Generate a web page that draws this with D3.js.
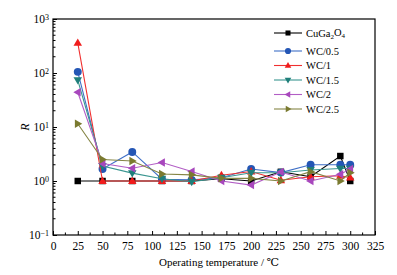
<!DOCTYPE html>
<html>
<head>
<meta charset="utf-8">
<script src="https://cdn.jsdelivr.net/npm/d3@7"></script>
<style>
  body { margin: 0; background: #fff; }
  text { font-family: "Liberation Serif", "DejaVu Serif", serif; fill: #000; }
</style>
</head>
<body>
<div id="chart"></div>
<script>

// temperatures (°C)
const temps = [25, 50, 80, 110, 140, 170, 200, 230, 260, 290, 300];

// series
const seriesNames = ["CuGa2O4", "WC/0.5", "WC/1", "WC/1.5", "WC/2", "WC/2.5"];
const cuga = [1.0, 1.0, 1.0, 1.0, 1.0, 1.1, 1.0, 1.48, 1.2, 2.9, 1.0];
const wc05 = [105, 1.67, 3.45, 1.08, 1.05, 1.15, 1.67, 1.43, 2.0, 2.0, 2.0];
const wc1 = [360, 1.0, 1.0, 1.0, 1.0, 1.28, 1.5, 1.03, 1.2, 1.25, 1.15];
const wc15 = [74, 1.9, 1.4, 1.1, 0.97, 1.15, 1.42, 1.42, 1.6, 1.7, 1.7];
const wc2 = [44, 2.1, 1.72, 2.2, 1.5, 1.0, 0.84, 1.47, 1.0, 1.33, 1.67];
const wc25 = [11.5, 2.5, 2.35, 1.35, 1.3, 1.12, 1.12, 1.0, 1.49, 1.0, 1.42];

const xTicks = [0, 25, 50, 75, 100, 125, 150, 175, 200, 225, 250, 275, 300, 325];
const yTicks = [0.1, 1, 10, 100, 1000];

function main() {

    const W = 397, H = 275;
    const margin = {top: 19, right: 22, bottom: 40, left: 53},
        width = W - margin.left - margin.right,
        height = H - margin.top - margin.bottom;

    const svg = d3.select("#chart")
        .append("svg")
        .attr("width", W)
        .attr("height", H);

    const g = svg.append("g")
        .attr("transform", `translate(${margin.left},${margin.top})`);

    const x = d3.scaleLinear().domain([0, 325]).range([0, width]);
    const y = d3.scaleLog().domain([0.1, 1000]).range([height, 0]);

    // minor ticks
    const xMinor = d3.range(12.5, 325, 25);
    const yMinor = [];
    for (let d = 0.1; d < 1000; d *= 10) {
        for (let k = 2; k <= 9; k++) yMinor.push(d * k);
    }

    g.selectAll(".xmin").data(xMinor).join("line")
        .attr("x1", d => x(d)).attr("x2", d => x(d))
        .attr("y1", height).attr("y2", height - 2.5)
        .attr("stroke", "#000").attr("stroke-width", 1);
    g.selectAll(".ymin").data(yMinor).join("line")
        .attr("x1", 0).attr("x2", 2.5)
        .attr("y1", d => y(d)).attr("y2", d => y(d))
        .attr("stroke", "#000").attr("stroke-width", 1);

    // X axis
    const xAxis = g.append("g")
        .attr("transform", `translate(0,${height})`)
        .call(d3.axisBottom(x).tickValues(xTicks).tickSizeInner(-4).tickSizeOuter(0).tickPadding(7));
    xAxis.select(".domain").remove();
    xAxis.selectAll("text").attr("font-size", 11.5)
        .style("font-family", "Liberation Serif, serif");

    // Y axis
    const yAxis = g.append("g")
        .call(d3.axisLeft(y).tickValues(yTicks).tickSizeInner(-4).tickSizeOuter(0).tickPadding(4).tickFormat(() => ""));
    yAxis.select(".domain").remove();
    yAxis.selectAll(".tick").each(function(d) {
        const t = d3.select(this).append("text")
            .attr("x", -4).attr("dy", "0.32em")
            .attr("text-anchor", "end")
            .attr("font-size", 11.5);
        const e = Math.round(Math.log10(d));
        t.append("tspan").text("10");
        t.append("tspan").attr("dy", "-0.45em").attr("font-size", 8).text(e < 0 ? "\u22121" : e);
    });

    // frame
    g.append("rect")
        .attr("width", width).attr("height", height)
        .attr("fill", "none").attr("stroke", "#000").attr("stroke-width", 1.2);

    // axis titles
    svg.append("text")
        .attr("x", margin.left + width / 2 + 5).attr("y", 266)
        .attr("text-anchor", "middle").attr("font-size", 11)
        .text("Operating temperature / \u2103");
    svg.append("text")
        .attr("transform", `translate(29,${margin.top + y(10)}) rotate(-90)`)
        .attr("text-anchor", "middle").attr("font-size", 12)
        .attr("font-style", "italic")
        .text("R");

    const series = [
        {name: seriesNames[0], values: cuga, color: "#000000", line: "#000000", sym: "square"},
        {name: seriesNames[1], values: wc05, color: "#2456b5", line: "#3f6fc6", sym: "circle"},
        {name: seriesNames[2], values: wc1, color: "#f01c1c", line: "#f03030", sym: "up"},
        {name: seriesNames[3], values: wc15, color: "#1f7f7a", line: "#3a9690", sym: "down"},
        {name: seriesNames[4], values: wc2, color: "#a847bd", line: "#b25ec5", sym: "left"},
        {name: seriesNames[5], values: wc25, color: "#7a7a30", line: "#858545", sym: "right"}
    ];

    function marker(sel, sym, color, s) {
        if (sym === "square") {
            sel.append("rect").attr("x", -s * 0.45).attr("y", -s * 0.45)
                .attr("width", s * 0.9).attr("height", s * 0.9).attr("fill", color);
        } else if (sym === "circle") {
            sel.append("circle").attr("r", s * 0.55).attr("fill", color);
        } else {
            const r = s * 0.62;
            const rot = {up: 0, down: 180, left: -90, right: 90}[sym];
            sel.append("path")
                .attr("d", `M0,${-r}L${r * 0.95},${r * 0.65}L${-r * 0.95},${r * 0.65}Z`)
                .attr("transform", `rotate(${rot})`)
                .attr("fill", color);
        }
    }

    const line = d3.line()
        .x((d, i) => x(temps[i]))
        .y(d => y(d));

    series.forEach(s => {
        g.append("path")
            .datum(s.values)
            .attr("fill", "none")
            .attr("stroke", s.line)
            .attr("stroke-width", 1.1)
            .attr("d", line);
        s.values.forEach((v, i) => {
            const m = g.append("g").attr("transform", `translate(${x(temps[i])},${y(v)})`);
            marker(m, s.sym, s.color, 7.2);
        });
    });

    // legend
    const legendY = [33, 51, 65.5, 80, 94.5, 109];
    series.forEach((s, i) => {
        const lg = svg.append("g").attr("transform", `translate(274,${legendY[i]})`);
        lg.append("line").attr("x1", 0).attr("x2", 28)
            .attr("stroke", s.line).attr("stroke-width", 1.1);
        marker(lg.append("g").attr("transform", "translate(14,0)"), s.sym, s.color, 5.6);
        const t = lg.append("text").attr("x", 32).attr("dy", "0.35em").attr("font-size", 10.5);
        if (s.name === "CuGa2O4") {
            t.append("tspan").text("CuGa");
            t.append("tspan").attr("dy", "0.3em").attr("font-size", 7).text("2");
            t.append("tspan").attr("dy", "-0.3em").text("O");
            t.append("tspan").attr("dy", "0.3em").attr("font-size", 7).text("4");
        } else {
            t.text(s.name);
        }
    });
}

main()
</script>
</body>
</html>
